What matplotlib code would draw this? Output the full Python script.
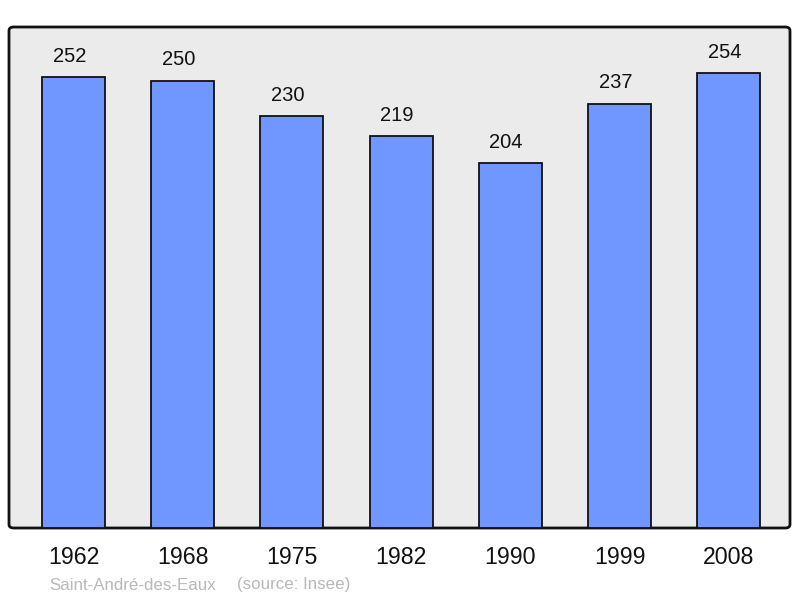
import matplotlib.pyplot as plt
from matplotlib.patches import FancyBboxPatch

plt.rcParams['font.family'] = ['Liberation Sans', 'DejaVu Sans']

years = ["1962", "1968", "1975", "1982", "1990", "1999", "2008"]
population = [252, 250, 230, 219, 204, 237, 254]
commune = "Saint-André-des-Eaux"
source = "(source: Insee)"

W, H = 800, 598
fig = plt.figure(figsize=(W / 100, H / 100), dpi=100)

# panel in pixel coords: x 9..790, y 27..528 (from top)
left, right, top, bottom = 9, 790, 27, 528
ax = fig.add_axes([left / W, 1 - bottom / H, (right - left) / W, (bottom - top) / H])
ax.set_facecolor('none')

# rounded panel behind the axes
panel = FancyBboxPatch((left / W, 1 - bottom / H), (right - left) / W, (bottom - top) / H,
                       boxstyle="round,pad=0,rounding_size=0.006",
                       transform=fig.transFigure, facecolor='#ebebeb',
                       edgecolor='#111111', linewidth=2, zorder=-5)
fig.patches.append(panel)

x = list(range(len(years)))
step = 109.2
x0 = 73.5
ax.set_xlim((left - x0) / step, (right - x0) / step)
ax.set_ylim(0, (bottom - top) / 1.79)

bars = ax.bar(x, population, width=63 / step, color='#7096ff', edgecolor='#111111',
              linewidth=1.3, zorder=2, clip_on=False)
for xi, v in zip(x, population):
    ax.annotate(str(v), (xi, v), xytext=(-3, 15), textcoords='offset points',
                ha='center', va='center', fontsize=14.5, color='#111111')

for s in ax.spines.values():
    s.set_visible(False)
ax.set_yticks([])
ax.set_xticks(x)
ax.set_xticklabels(years, fontsize=16.7, color='#111111')
ax.tick_params(axis='x', length=0, pad=13)

fig.text(49 / W, 1 - 585 / H, commune, fontsize=12.2,
         color='#b8b8b8', ha='left', va='center')
fig.text(237 / W, 1 - 585 / H, source, fontsize=12.2,
         color='#b8b8b8', ha='left', va='center')

fig.savefig('out.png', dpi=100)
